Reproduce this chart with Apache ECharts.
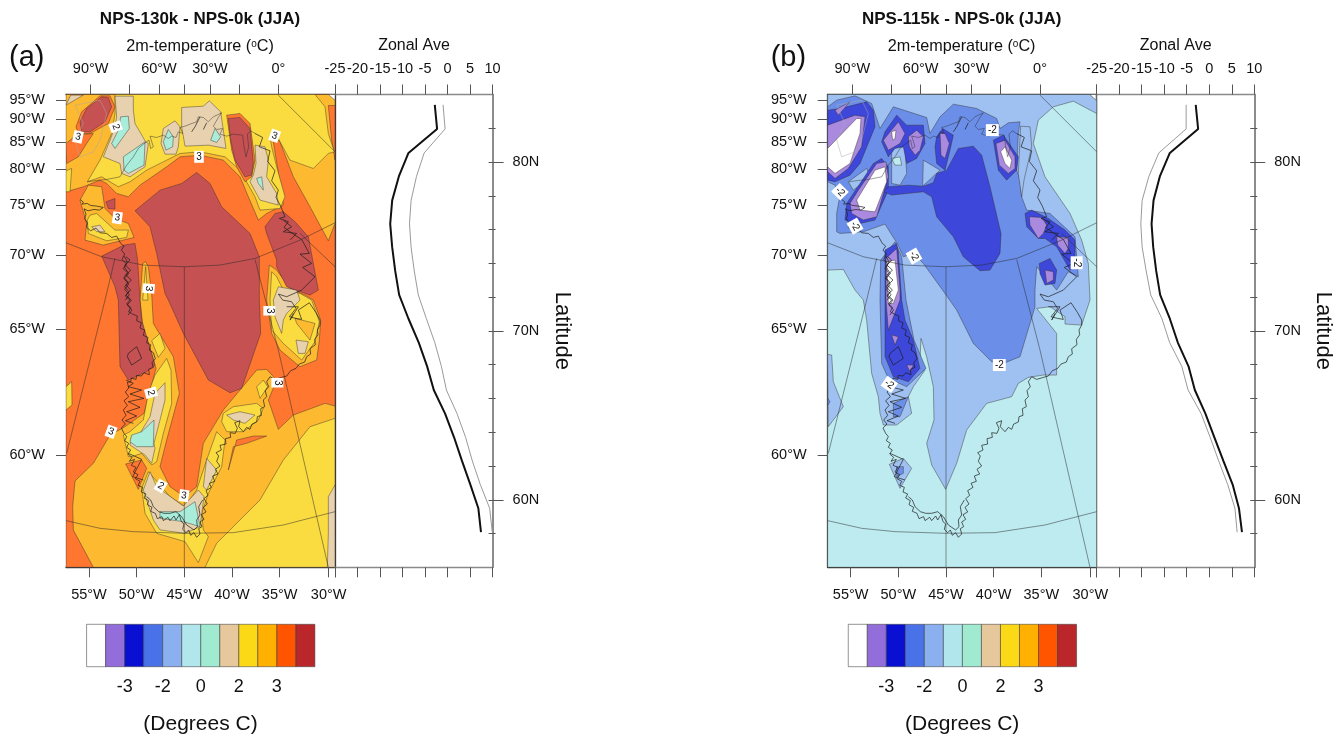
<!DOCTYPE html>
<html><head><meta charset="utf-8"><style>html,body{margin:0;background:#fff}#c{width:1344px;height:740px}</style>
<script src="https://cdn.jsdelivr.net/npm/echarts@6/dist/echarts.min.js"></script></head><body><div id="c"></div>
<script>
// Palette
const RED='#c65152',ORG='#ff7631',AMB='#fdb92f',YEL='#fbdc40',TAN='#e7d1ae',MNT='#a9ecd9';
const DEEP='#3d47d9',MID='#6b8fe9',LIT='#9fc1f1',PAL='#bdebf0',PUR='#a98adf',WHT='#ffffff';
const legendColors=['#ffffff','#936edb','#0a10d2','#4a72e8','#8ab0ef','#b0e6ec','#a0ead2','#e6c89c','#fcd917','#ffb000','#ff5500','#b9272a'];
const legendLabels={2:'-3',4:'-2',6:'0',8:'2',10:'3'};
// Latitudes & zonal means
const lats=[83.39,81.96,80.54,79.15,77.73,76.34,74.96,73.55,72.13,70.72,69.31,67.9,66.5,65.1,63.7,62.3,60.9,59.5,58.08];
const zonalAThick=[-2.84,-2.33,-8.68,-10.82,-12.3,-12.74,-12.3,-11.63,-10.75,-8.68,-6.4,-4.54,-3.06,-0.55,1.44,3.2,5.06,6.83,7.42];
const zonalAThin=[-1.0,-0.55,-5.2,-6.9,-8.1,-8.46,-8.1,-7.4,-6.5,-4.7,-2.84,-1.37,-0.26,2.1,4.0,5.5,7.27,9.34,9.93];
const zonalBThick=[-3.0,-2.47,-8.75,-10.97,-12.37,-12.81,-12.44,-11.78,-10.9,-8.75,-6.98,-4.6,-3.2,-0.85,1.14,3.14,5.2,6.6,7.27];
const zonalBThin=[-5.13,-5.13,-11.2,-13.4,-14.9,-15.2,-14.9,-14,-13,-10.5,-8.8,-6.1,-4.7,-1.8,0.2,2.1,4.1,5.7,6.2];
// Map tick positions (projected plot units) and their labels
const bottomTicks=[267,410,553,696,839,986,1005];
const bottomLabels={267:'55°W',410:'50°W',553:'45°W',696:'40°W',839:'35°W',986:'30°W'};
const topTicks=[272,389,477,553,630,717,835,1005];
const topLabels={272:'90°W',477:'60°W',630:'30°W',835:'0°'};
const leftTicks=[301,357,425,508,616,765,988,1365];
const leftLabels={301:'95°W',357:'90°W',425:'85°W',508:'80°W',616:'75°W',765:'70°W',988:'65°W',1365:'60°W'};
// Panel (a) contours, projected plot units
const aAmberS=[[280,1702],[220,1590],[218,1520],[225,1443],[280,1390],[330,1305],[372,1282],[432,1240],[468,1105],[452,1050],[430,990],[420,900],[428,790],[437,785],[445,800],[455,880],[460,970],[520,1070],[538,1180],[500,1320],[480,1400],[510,1460],[553,1490],[590,1460],[610,1330],[670,1230],[770,1110],[800,1108],[830,1140],[805,1200],[835,1288],[880,1245],[975,1210],[1005,1218],[1005,1702]];
const aAmberN=[[198,283],[1005,283],[1005,670],[985,722],[930,620],[880,530],[838,420],[820,425],[845,580],[850,615],[800,640],[775,660],[745,590],[720,530],[670,480],[600,465],[540,470],[500,500],[420,555],[385,590],[350,580],[320,550],[300,540],[250,560],[198,575]];
const aAmberArm=[[265,555],[240,600],[260,670],[255,720],[310,735],[402,712],[385,670],[345,655],[315,625],[305,560]];
const aAmberNE=[[808,795],[800,900],[815,1000],[840,1050],[900,1100],[950,1080],[958,1020],[962,960],[940,900],[915,885],[870,865],[830,810]];
const aOrgNW=[[198,430],[228,405],[280,400],[260,430],[235,470],[200,490]];
const aOrgTR=[[985,316],[1005,316],[1005,480],[995,420]];
const aOrgPocket=[[377,1392],[425,1380],[440,1405],[415,1468]];
const aOrgTongue=[[800,1308],[760,1308],[710,1320],[685,1410],[700,1340],[740,1330]];
const aOrgRing1=[[228,380],[245,335],[300,287],[330,287],[345,320],[325,370],[270,400],[235,400]];
const aOrgRing2=[[680,345],[720,340],[750,370],[765,480],[755,530],[735,545],[710,500],[695,450]];
const aYelN=[[345,283],[945,283],[975,320],[985,400],[1003,455],[985,460],[940,505],[870,480],[835,415],[810,410],[815,440],[830,500],[855,590],[840,625],[780,630],[765,590],[720,510],[675,470],[600,455],[540,460],[500,480],[440,510],[390,545],[355,560],[305,530],[262,545],[300,480],[335,400],[345,340]];
const aYelL=[[198,512],[215,505],[210,575],[198,575]];
const aYelArm=[[270,645],[290,640],[345,690],[385,690],[380,712],[320,722],[265,700],[262,660]];
const aYelS=[[615,1702],[650,1630],[780,1500],[850,1380],[930,1280],[1005,1255],[1005,1702]];
const aYelBand=[[445,1415],[510,1490],[555,1520],[590,1470],[620,1380],[650,1295],[675,1320],[665,1400],[625,1480],[605,1540],[610,1590],[625,1610],[595,1688],[555,1625],[470,1600],[435,1540],[425,1465]];
const aYelW=[[500,1075],[513,1110],[515,1210],[490,1300],[470,1385],[455,1395],[425,1360],[395,1370],[385,1370],[370,1305],[390,1295],[430,1260],[445,1180],[465,1125]];
const aYelD1=[[480,1000],[495,1045],[475,1072],[455,1022]];
const aYelD2=[[670,1240],[700,1220],[770,1210],[790,1225],[775,1260],[730,1295],[680,1295],[665,1265]];
const aYelD3=[[790,1140],[803,1160],[780,1195],[770,1160]];
const aYelE=[[815,815],[810,900],[815,990],[850,1030],[905,1080],[945,1025],[958,965],[935,900],[900,880],[850,870],[830,830]];
const aYelC=[[437,800],[444,900],[428,900]];
const aYelP1=[[198,1160],[215,1145],[216,1215],[198,1230]];
const aTanTL=[[198,315],[212,285],[250,285]];
const aTan1=[[310,470],[330,420],[345,380],[350,350],[345,288],[400,288],[400,330],[405,370],[437,425],[445,430],[435,500],[390,530],[365,520],[360,490]];
const aTan2=[[490,385],[525,362],[540,380],[535,440],[528,462],[495,462],[483,430]];
const aTan3=[[545,322],[610,318],[628,302],[662,335],[678,445],[625,435],[555,438],[545,380]];
const aTan4=[[765,435],[795,440],[805,480],[800,530],[830,580],[835,615],[780,600],[750,545],[760,525],[768,490]];
const aTan5=[[275,680],[300,675],[315,695],[290,695]];
const aTanW=[[495,1148],[495,1200],[480,1260],[462,1330],[465,1345],[455,1390],[435,1365],[390,1335],[395,1310],[420,1300],[450,1250],[465,1180]];
const aTanS=[[450,1415],[470,1460],[525,1500],[550,1518],[595,1470],[612,1490],[600,1580],[555,1600],[480,1590],[460,1560],[440,1500],[430,1470]];
const aTanSE=[[620,1375],[650,1410],[620,1470],[610,1460]];
const aTanD2=[[680,1245],[720,1235],[765,1245],[735,1270],[700,1260]];
const aTanE1=[[835,860],[890,870],[900,900],[860,940],[850,960],[845,1000],[825,950],[820,900]];
const aTanE2=[[888,1020],[925,1025],[915,1060],[895,1060]];
const aTanBR=[[1005,1455],[985,1490],[985,1600],[982,1702],[1005,1702]];
const aAmbE=[[885,955],[945,970],[930,1020],[890,970]];
const aMint1=[[362,350],[385,348],[388,385],[345,445],[335,430],[355,390]];
const aMint2=[[370,470],[435,425],[432,495],[385,520],[372,510]];
const aMint3=[[505,388],[520,410],[518,440],[498,450],[490,425]];
const aMint4=[[645,385],[662,410],[650,427],[632,420]];
const aMint5=[[770,535],[785,530],[790,570],[775,550]];
const aMintW=[[462,1260],[460,1340],[410,1340],[390,1325],[395,1305],[425,1295]];
const aMintS=[[480,1535],[540,1535],[585,1505],[600,1580],[550,1565],[480,1555]];
const aRedOval=[[240,365],[260,325],[305,290],[325,292],[335,320],[315,365],[270,395],[245,395]];
const aRedNE=[[685,355],[720,352],[750,385],[760,490],[755,525],[735,530],[705,480],[692,420]];
const aRedC=[[405,632],[480,570],[545,550],[590,517],[630,550],[665,620],[750,700],[778,770],[778,900],[782,1000],[725,1165],[690,1178],[625,1140],[550,1000],[505,900],[495,880],[470,760],[450,680]];
const aRedW=[[305,768],[372,735],[405,730],[413,780],[420,900],[425,960],[452,1050],[465,1095],[440,1115],[385,1140],[360,1100],[355,900],[345,860]];
const aRedE=[[795,680],[825,640],[850,635],[885,665],[925,710],[955,870],[930,885],[860,860],[830,800],[830,780],[800,700]];
const aRedS=[[318,605],[345,595],[345,627],[325,625]];
const aCorner=[[985,283],[1005,283],[1005,300]];
const fieldA=[[AMB,aAmberS],[AMB,aAmberN],[AMB,aAmberArm],[AMB,aAmberNE],[ORG,aOrgNW],[ORG,aOrgTR],[ORG,aOrgPocket],[ORG,aOrgTongue],[YEL,aYelN],[YEL,aYelL],[YEL,aYelArm],[YEL,aYelS],[YEL,aYelBand],[YEL,aYelW],[YEL,aYelD1],[YEL,aYelD2],[YEL,aYelD3],[YEL,aYelE],[YEL,aYelC],[YEL,aYelP1],[ORG,aOrgRing1],[ORG,aOrgRing2],[TAN,aTanTL],[TAN,aTan1],[TAN,aTan2],[TAN,aTan3],[TAN,aTan4],[TAN,aTan5],[TAN,aTanW],[TAN,aTanS],[TAN,aTanSE],[TAN,aTanD2],[TAN,aTanE1],[TAN,aTanE2],[TAN,aTanBR],[AMB,aAmbE],[MNT,aMint1],[MNT,aMint2],[MNT,aMint3],[MNT,aMint4],[MNT,aMint5],[MNT,aMintW],[MNT,aMintS],[RED,aRedOval],[RED,aRedNE],[RED,aRedC],[RED,aRedW],[RED,aRedE],[RED,aRedS],[WHT,aCorner]];
const labelsA=[[234,410,'3',-12],[347,380,'2',-70],[597,470,'3',0],[824,407,'3',-20],[352,653,'3',-8],[446,865,'3',-95],[808,932,'3',-90],[453,1178,'2',-75],[333,1295,'3',-20],[482,1458,'2',-30],[552,1487,'3',-8],[832,1148,'3',-90]];
// Panel (b) contours
const bLitMain=[[203,283],[990,283],[1010,300],[1010,340],[940,303],[880,320],[835,360],[820,430],[855,530],[930,640],[965,720],[985,790],[990,900],[965,975],[915,972],[915,950],[870,920],[830,925],[890,1000],[890,1125],[850,1125],[805,1132],[775,1150],[755,1190],[680,1210],[620,1290],[590,1390],[557,1468],[515,1395],[500,1330],[522,1260],[520,1160],[500,1070],[483,1015],[480,1080],[495,1110],[460,1160],[445,1190],[455,1240],[410,1275],[370,1275],[360,1240],[355,1190],[335,1120],[320,960],[310,900],[285,870],[250,808],[203,810]];
const bLitL=[[203,1063],[215,1065],[220,1145],[250,1220],[205,1280]];
const bLitS=[[388,1393],[430,1375],[455,1405],[420,1465]];
const bMidMain=[[203,320],[230,300],[285,287],[335,310],[360,385],[400,320],[500,352],[510,400],[540,350],[580,312],[650,325],[710,355],[720,385],[745,368],[780,365],[775,400],[770,510],[780,540],[785,590],[800,630],[870,640],[945,710],[955,830],[925,815],[890,870],[830,800],[825,870],[825,920],[780,1070],[730,1090],[695,1085],[640,1030],[590,930],[555,880],[490,790],[462,760],[430,770],[412,730],[400,712],[375,672],[310,695],[240,700],[230,695],[230,640],[240,585],[225,555],[203,545]];
const bMidCol=[[362,780],[405,725],[425,770],[438,900],[462,1020],[498,1105],[440,1160],[385,1135],[365,1090],[360,900]];
const bMidS=[[400,1210],[445,1190],[420,1250],[400,1250]];
const bMidS2=[[410,1400],[430,1400],[430,1420],[410,1430]];
const bMidL=[[203,1195],[210,1205],[203,1215]];
const bLitP1=[[265,545],[320,505],[330,530],[280,570]];
const bLitP2=[[395,440],[435,440],[440,520],[420,555],[395,550]];
const bLitP3=[[488,558],[490,480],[540,510]];
const bLitP4=[[782,378],[810,380],[815,440],[792,540],[785,590],[775,520]];
const bPalP=[[395,475],[420,470],[425,495],[405,495]];
const bD1=[[203,330],[240,325],[320,305],[340,330],[345,380],[300,490],[270,525],[225,545],[203,540]];
const bD2=[[260,610],[280,580],[340,490],[365,475],[385,500],[385,570],[345,660],[300,670],[255,660]];
const bD3=[[365,425],[375,395],[410,345],[440,375],[490,375],[495,430],[470,475],[440,490],[430,440],[405,445],[385,470]];
const bDC=[[385,560],[445,555],[490,558],[520,548],[530,520],[560,510],[595,445],[640,438],[665,465],[690,560],[723,700],[720,760],[690,810],[660,812],[610,770],[580,710],[530,650],[515,590],[490,575],[395,585],[370,575]];
const bDT=[[530,410],[548,385],[580,405],[570,450],[555,510],[530,490],[525,440]];
const bDO=[[700,420],[730,405],[775,470],[770,510],[740,540],[715,510]];
const bDE1=[[795,640],[815,630],[865,655],[915,690],[945,720],[945,800],[930,810],[890,740],[855,715],[835,715],[800,680]];
const bDE2=[[838,790],[870,775],[890,810],[885,850],[855,855],[840,820]];
const bDW=[[375,750],[410,730],[415,755],[425,900],[435,960],[460,1020],[480,1105],[445,1145],[400,1130],[375,1070],[375,900]];
const bP1=[[203,375],[285,345],[315,350],[305,440],[265,505],[225,535],[203,515]];
const bP1b=[[225,330],[270,305],[235,345]];
const bP2=[[270,610],[295,570],[350,490],[378,485],[385,530],[350,650],[310,660],[275,640]];
const bP3=[[370,420],[415,365],[435,400],[420,430],[385,450]];
const bP4=[[445,410],[470,390],[490,410],[480,450],[465,465],[448,440]];
const bP5=[[540,400],[555,400],[568,430],[555,475],[543,465]];
const bP6=[[708,430],[735,420],[765,470],[765,505],[745,520],[718,495]];
const bP7=[[808,650],[845,652],[860,675],[850,700],[835,715],[810,675]];
const bP8=[[890,710],[925,712],[925,745],[915,760],[893,735]];
const bP9=[[855,810],[880,815],[880,840],[860,850]];
const bP10=[[378,775],[410,745],[420,870],[420,900],[385,990],[378,900]];
const bP11=[[395,1005],[415,1010],[405,1035]];
const bP12=[[440,1095],[460,1095],[450,1115]];
const bW1=[[203,445],[290,355],[303,355],[300,400],[270,490],[225,520],[203,500]];
const bW2=[[290,600],[345,510],[375,500],[380,545],[345,635],[300,630]];
const bW3=[[395,395],[408,390],[405,415],[398,420]];
const bW4=[[722,455],[735,440],[755,480],[750,505],[735,490]];
const bW5=[[380,785],[405,780],[415,870],[400,910],[385,910]];
const bCorner=[[990,283],[1008,283],[1008,300]];
const fieldB=[[LIT,bLitMain],[LIT,bLitL],[LIT,bLitS],[MID,bMidMain],[MID,bMidCol],[MID,bMidS],[MID,bMidS2],[MID,bMidL],[LIT,bLitP1],[LIT,bLitP2],[LIT,bLitP3],[LIT,bLitP4],[PAL,bPalP],[DEEP,bD1],[DEEP,bD2],[DEEP,bD3],[DEEP,bDC],[DEEP,bDT],[DEEP,bDO],[DEEP,bDE1],[DEEP,bDE2],[DEEP,bDW],[PUR,bP1],[PUR,bP1b],[PUR,bP2],[PUR,bP3],[PUR,bP4],[PUR,bP5],[PUR,bP6],[PUR,bP7],[PUR,bP8],[PUR,bP9],[PUR,bP10],[PUR,bP11],[PUR,bP12],[WHT,bW1],[WHT,bW2],[WHT,bW3],[WHT,bW4],[WHT,bW5],[WHT,bCorner]];
const labelsB=[[240,575,'-2',-45],[285,678,'-2',-60],[462,768,'-2',-60],[697,390,'-2',0],[950,788,'-2',-90],[718,1095,'-2',0],[388,1153,'-2',-35]];
// Graticule and coast, panel (a) plot units; panel (b) shifts by five plot units
const gratLines=[[[553,800],[553,1702]],[[345,775],[315,900],[200,1360]],[[765,778],[835,1050],[985,1702]],[[835,285],[1005,455]],[[900,700],[1005,800]],[[198,728],[305,770],[430,795],[553,800],[660,795],[765,775],[900,720],[1005,668]],[[198,1562],[300,1585],[400,1595],[553,1600],[700,1598],[850,1575],[1005,1535]]];
const coastMain=[[240,598],[250,606],[246,612],[262,610],[272,616],[290,618],[310,622],[298,630],[282,628],[264,632],[252,626],[258,642],[254,656],[262,668],[260,682],[272,692],[288,684],[300,698],[320,700],[335,712],[350,708],[362,730],[372,738],[364,750],[374,762],[366,778],[378,790],[370,806],[382,818],[372,832],[384,846],[374,860],[386,874],[376,888],[390,900],[380,912],[392,922],[386,935],[398,942],[412,948],[410,962],[424,968],[420,984],[434,990],[430,1006],[444,1012],[440,1028],[452,1034],[448,1050],[460,1058],[466,1076],[456,1088],[460,1102],[446,1108],[448,1124],[432,1118],[424,1128],[410,1126],[408,1138],[394,1134],[392,1146],[382,1146],[386,1164],[376,1176],[386,1190],[372,1202],[382,1216],[370,1230],[378,1246],[366,1260],[376,1272],[364,1284],[372,1300],[380,1310],[374,1322],[386,1330],[380,1342],[392,1350],[384,1362],[396,1372],[388,1384],[404,1378],[394,1396],[408,1402],[400,1416],[414,1424],[406,1436],[420,1444],[414,1456],[428,1462],[424,1476],[438,1482],[432,1494],[446,1502],[442,1514],[456,1522],[452,1534],[466,1540],[472,1556],[486,1550],[490,1562],[504,1552],[510,1562],[522,1548],[528,1560],[538,1544],[544,1565],[552,1572],[548,1588],[558,1598],[566,1590],[572,1606],[582,1598],[590,1612],[600,1602],[596,1586],[606,1580],[600,1566],[612,1558],[604,1544],[618,1536],[610,1522],[622,1512],[612,1496],[624,1486],[618,1472],[634,1462],[628,1450],[644,1444],[638,1428],[654,1422],[646,1408],[660,1398],[650,1384],[656,1368],[648,1358],[664,1350],[660,1336],[678,1332],[676,1316],[692,1312],[690,1298],[706,1300],[712,1285],[704,1268],[720,1262],[716,1280],[730,1295],[740,1282],[750,1288],[756,1272],[770,1266],[772,1250],[784,1246],[782,1226],[794,1220],[790,1200],[800,1190],[796,1172],[806,1160],[800,1145],[810,1130],[825,1138],[845,1132],[860,1128],[872,1112],[888,1105],[898,1092],[914,1086],[920,1070],[932,1062],[930,1046],[946,1034],[944,1018],[954,1004],[952,990],[960,975],[960,960]];
const coastEast=[[960,960],[948,938],[928,908],[895,930],[905,958],[888,955],[868,950],[888,925],[875,905],[848,900],[835,882],[860,890],[905,870],[945,830],[908,802],[935,790],[900,762],[928,760],[905,718],[880,702],[852,682],[865,665],[838,655],[855,650],[842,618],[828,592],[835,570],[815,542],[825,512],[803,484],[810,452],[778,440],[788,412],[765,400]];
const coastNorth=[[765,400],[752,392],[742,402],[746,440],[738,470],[732,440],[728,405],[700,402],[680,408],[660,402],[668,385],[650,388],[640,378],[655,352],[665,338],[640,350],[625,365],[610,352],[595,350],[590,365],[570,372],[555,378],[540,382],[548,400],[535,395],[528,412],[515,408],[505,415],[490,405],[470,412],[450,408],[460,440],[452,445],[447,420],[430,432],[415,445],[400,470],[378,498],[360,530],[320,538],[290,541],[262,545]];
const coastGhost=[[225,315],[300,300],[320,340],[300,420],[280,455],[240,470],[225,420],[250,370],[225,315]];
const fjords=[[[378,770],[390,780],[376,795],[392,810],[378,825],[394,840],[378,855],[392,870],[378,885],[394,900],[382,915],[396,930],[384,945]],[[372,768],[382,785],[374,802],[386,820],[372,836],[386,852],[374,868],[388,884],[376,900]],[[378,1140],[400,1150],[385,1160],[425,1170],[390,1182],[432,1195],[385,1205],[420,1222],[380,1235],[410,1248],[376,1262],[400,1270]],[[385,1060],[410,1040],[425,1075],[395,1095],[382,1070],[385,1060]],[[440,1490],[452,1500],[460,1520],[476,1535],[492,1540],[510,1540],[528,1535],[545,1550],[560,1575],[582,1590],[592,1580],[590,1560],[600,1545],[596,1520],[608,1500]],[[385,1360],[425,1378],[398,1430],[430,1440]],[[850,660],[875,680],[850,695],[890,700],[870,720]],[[860,920],[895,920],[870,960],[880,940]],[[600,350],[585,380],[575,395]],[[620,368],[610,388]]];
const COAST_ALL=[coastMain,coastEast,...fjords];
const gridTop=94.5,gridH=472.8;
const leftText={color:'#111',fontSize:14.5};
const grid=[],xAxis=[],yAxis=[],series=[];

function polySeries(xi,yi,field,labels,shift){
  series.push({type:'custom',xAxisIndex:xi,yAxisIndex:yi,silent:true,clip:true,z:2,data:field.map((f,i)=>[i]),
    renderItem(p,api){const f=field[api.value(0)];return{type:'polygon',shape:{points:f[1].map(q=>api.coord(q))},style:{fill:f[0],stroke:'rgba(50,45,40,.62)',lineWidth:.7}};}});
  const lineSet=(arr,col,w,z)=>series.push({type:'custom',xAxisIndex:xi,yAxisIndex:yi,silent:true,clip:true,z:z,data:arr.map((f,i)=>[i]),
    renderItem(p,api){return{type:'polyline',shape:{points:arr[api.value(0)].map(q=>api.coord([q[0]+shift,q[1]]))},style:{fill:'none',stroke:col,lineWidth:w}};}});
  lineSet([coastGhost],'rgba(170,170,170,.7)',.7,3);
  lineSet(gratLines,'rgba(40,40,40,.7)',.7,3);
  lineSet([coastNorth],'rgba(40,40,40,.75)',.6,4);
  lineSet(COAST_ALL,'#1c1c1c',.7,4);
  series.push({type:'custom',xAxisIndex:xi,yAxisIndex:yi,silent:true,z:5,data:labels.map((f,i)=>[i]),
    renderItem(p,api){const l=labels[api.value(0)],c=api.coord([l[0],l[1]]);return{type:'text',x:c[0],y:c[1],rotation:l[3]*Math.PI/180,style:{text:l[2],fill:'#111',fontSize:10,fontFamily:'Liberation Sans',align:'center',verticalAlign:'middle',backgroundColor:'#fff',padding:[1,2]}};}});
}
function panel(o){
  const s=o.shift, gi=grid.length, xi=xAxis.length, yi=yAxis.length;
  grid.push({left:o.left,top:gridTop,width:269,height:gridH});
  const common={type:'value',gridIndex:gi,min:198+s,max:1005+s,splitLine:{show:false},axisLine:{onZero:false,lineStyle:{color:'#3a3a3a',width:1.3}},axisTick:{length:10,lineStyle:{color:'#555',width:1}}};
  xAxis.push({...common,position:'bottom',axisTick:{...common.axisTick,customValues:bottomTicks.map(v=>v+s)},axisLabel:{...leftText,margin:20,customValues:Object.keys(bottomLabels).map(v=>+v+s),formatter:v=>bottomLabels[v-s]||''}});
  xAxis.push({...common,position:'top',axisTick:{...common.axisTick,customValues:topTicks.map(v=>v+s)},axisLabel:{...leftText,margin:18,customValues:Object.keys(topLabels).map(v=>+v+s),formatter:v=>topLabels[v-s]||''}});
  const yc={type:'value',gridIndex:gi,min:283,max:1702,inverse:true,splitLine:{show:false},axisLine:{onZero:false,lineStyle:{color:'#3a3a3a',width:1.3}}};
  yAxis.push({...yc,position:'left',axisTick:{length:10,lineStyle:{color:'#555'},customValues:leftTicks},axisLabel:{...leftText,margin:21,customValues:leftTicks,formatter:v=>leftLabels[v]||''}});
  yAxis.push({...yc,position:'right',axisTick:{show:false},axisLabel:{show:false}});
  polySeries(xi,yi,o.field,o.labels,s);
  // zonal panel
  const gz=grid.length, xz=xAxis.length, yz=yAxis.length;
  grid.push({left:o.left+269,top:gridTop,width:157.6,height:gridH});
  const zx={type:'value',gridIndex:gz,min:-25,max:10,interval:5,splitLine:{show:false},axisLine:{onZero:false,lineStyle:{color:'#8a8a8a',width:1.3}},axisTick:{length:10,lineStyle:{color:'#555'}}};
  xAxis.push({...zx,position:'top',axisLabel:{...leftText,margin:18}});
  xAxis.push({...zx,position:'bottom',axisLabel:{show:false}});
  const zy={type:'value',gridIndex:gz,min:56,max:84,position:'right',splitLine:{show:false},axisLine:{onZero:false,lineStyle:{color:'#8a8a8a',width:1.5}}};
  yAxis.push({...zy,axisTick:{length:11,lineStyle:{color:'#555'},customValues:[60,70,80]},axisLabel:{...leftText,margin:20,customValues:[60,70,80],formatter:v=>v+'N'},name:'Latitude',nameLocation:'middle',nameRotate:-90,nameGap:58,nameTextStyle:{fontSize:22,color:'#111'}});
  const mt=[58,60,62,64,66,68,70,72,74,76,78,80,82];
  yAxis.push({...zy,axisTick:{length:3,lineStyle:{color:'#555'},customValues:mt},axisLabel:{show:false}});
  yAxis.push({...zy,axisTick:{length:4,inside:true,lineStyle:{color:'#555'},customValues:mt},axisLabel:{show:false}});
  const line=(vals,col,w,z)=>series.push({type:'line',xAxisIndex:xz,yAxisIndex:yz,showSymbol:false,silent:true,z:z,lineStyle:{color:col,width:w},data:vals.map((v,i)=>[v,lats[i]])});
  line(o.thin,'#9a9a9a',1,2); line(o.thick,'#111',2,3);
  // colour bar
  const gl=grid.length, xl=xAxis.length, yl=yAxis.length;
  grid.push({left:o.left+20.6,top:624.3,width:228.3,height:42.4});
  xAxis.push({type:'value',gridIndex:gl,min:0,max:12,splitLine:{show:false},axisLine:{show:false},axisTick:{show:false},axisLabel:{color:'#111',fontSize:18,margin:11,customValues:[2,4,6,8,10],formatter:v=>legendLabels[v]}});
  yAxis.push({type:'value',gridIndex:gl,min:0,max:1,show:false});
  series.push({type:'custom',xAxisIndex:xl,yAxisIndex:yl,silent:true,data:legendColors.map((c,i)=>[i]),
    renderItem(p,api){const i=api.value(0),a=api.coord([i,1]),b=api.coord([i+1,0]);return{type:'rect',shape:{x:a[0],y:a[1],width:b[0]-a[0],height:b[1]-a[1]},style:{fill:legendColors[i],stroke:'rgba(60,60,60,.55)',lineWidth:1}};}});
  // Titles
  const cx=o.left+134;
  o.g.push(
    {type:'text',x:cx,y:19.5,style:{text:o.title,fontFamily:'Liberation Sans',fontWeight:'bold',fontSize:17,fill:'#111',align:'center',verticalAlign:'middle'}},
    {type:'text',x:o.left-57,y:58,style:{text:o.tag,fontFamily:'Liberation Sans',fontSize:29,fill:'#111',align:'left',verticalAlign:'middle'}},
    {type:'text',x:cx,y:47,style:{text:'2m-temperature ({s|o}C)',fontFamily:'Liberation Sans',fontSize:16.2,fill:'#111',align:'center',verticalAlign:'middle',rich:{s:{fontSize:10,fontFamily:'Liberation Sans',fill:'#111',verticalAlign:'top',padding:[0,0,6,0]}}}},
    {type:'text',x:o.left+348,y:46,style:{text:'Zonal Ave',fontFamily:'Liberation Sans',fontSize:16,fill:'#111',align:'center',verticalAlign:'middle'}},
    {type:'text',x:o.left+134.5,y:724,style:{text:'(Degrees C)',fontFamily:'Liberation Sans',fontSize:21,fill:'#111',align:'center',verticalAlign:'middle'}});
}
const graphics=[];
// base fills: a full-frame polygon first
fieldA.unshift([ORG,[[198,283],[1005,283],[1005,1702],[198,1702]]]);
fieldB.unshift([PAL,[[203,283],[1010,283],[1010,1702],[203,1702]]]);
panel({left:66,shift:0,field:fieldA,labels:labelsA,thick:zonalAThick,thin:zonalAThin,title:'NPS-130k - NPS-0k (JJA)',tag:'(a)',g:graphics});
panel({left:827.67,shift:5,field:fieldB,labels:labelsB,thick:zonalBThick,thin:zonalBThin,title:'NPS-115k - NPS-0k (JJA)',tag:'(b)',g:graphics});
const chart=echarts.init(document.getElementById('c'),null,{width:1344,height:740});
chart.setOption({animation:false,backgroundColor:'#fff',textStyle:{fontFamily:'Liberation Sans'},grid,xAxis,yAxis,series,graphic:{elements:graphics}});
</script></body></html>
